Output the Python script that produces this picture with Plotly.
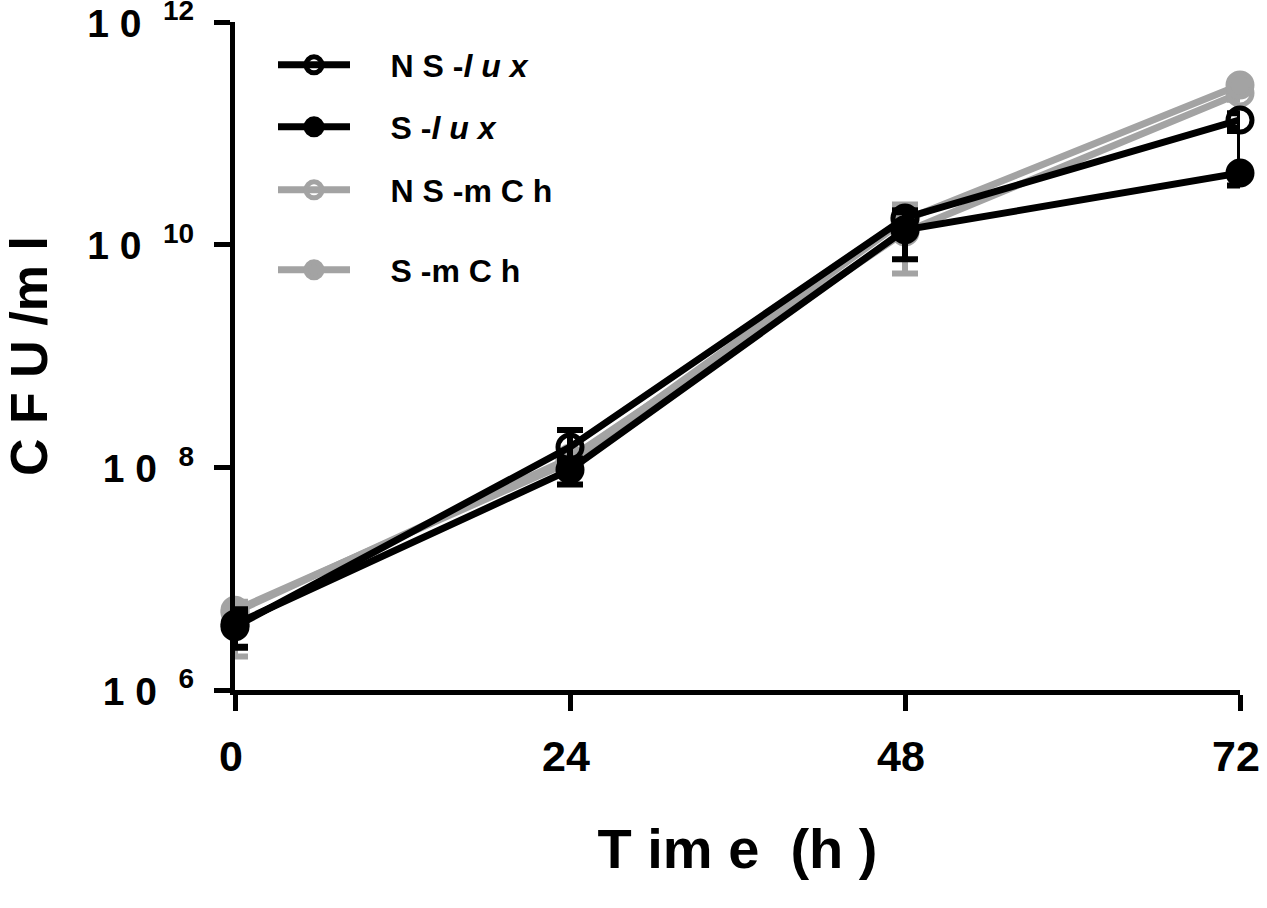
import plotly.graph_objects as go

# Time points (h)
time_h = [0, 24, 48, 72]

# Series names (legend)
NB = "\u00a0\u00a0\u00a0 "
legend_text = [NB + "N S -<i>l u x</i>", NB + "S -<i>l u x</i>",
               NB + "N S -m C h", NB + "S -m C h"]

# Mean CFU/ml
ns_lux = [3.7e6, 1.52e8, 1.74e10, 1.32e11]
s_lux = [3.9e6, 9.5e7, 1.36e10, 4.4e10]
ns_mch = [5.0e6, 1.21e8, 1.30e10, 2.30e11]
s_mch = [5.2e6, 1.12e8, 1.67e10, 2.72e11]

# Error bars (plus / minus) in CFU/ml
ns_lux_err_p = [1.2e6, 6.4e7, 3.0e9, 2.0e10]
ns_lux_err_m = [1.25e6, 4.0e7, 3.0e9, 2.0e10]
s_lux_err_p = [1.4e6, 2.5e7, 6.0e9, 6.1e10]
s_lux_err_m = [1.5e6, 2.5e7, 6.2e9, 1.0e10]
ns_mch_err_p = [1.0e6, 1.5e7, 1.0e10, 3.0e10]
ns_mch_err_m = [3.0e6, 1.5e7, 7.5e9, 3.0e10]
s_mch_err_p = [1.0e6, 1.0e7, 2.0e9, 2.0e10]
s_mch_err_m = [1.0e6, 1.0e7, 2.0e9, 2.0e10]

SUP = "<sup><span style='font-size:28px'>{}</span></sup>"
y_tickvals = [1e6, 1e8, 1e10, 1e12]
y_ticktext = ["1 0\u00a0\u00a0" + SUP.format(e) for e in ["6", "8", "10", "12"]]
x_tickvals = [0, 24, 48, 72]
x_ticktext = ["0", "24", "48", "72"]

BLACK = "#000000"
GRAY = "#a3a3a3"
FONT = "Liberation Sans"

W, H = 1267, 908
ML, MR, MT, MB = 235, 27, 22, 218
PH = H - MT - MB

series = [
    # (index, values, err+, err-, color, symbol, legend id)
    (2, ns_mch, ns_mch_err_p, ns_mch_err_m, GRAY, "circle-open", "legend4"),
    (3, s_mch, s_mch_err_p, s_mch_err_m, GRAY, "circle", "legend5"),
    (0, ns_lux, ns_lux_err_p, ns_lux_err_m, BLACK, "circle-open", "legend2"),
    (1, s_lux, s_lux_err_p, s_lux_err_m, BLACK, "circle", "legend3"),
]

fig = go.Figure()
for idx, vals, ep, em, col, sym, leg in series:
    fig.add_trace(go.Scatter(
        x=time_h, y=vals,
        name=legend_text[idx],
        mode="lines+markers",
        line=dict(color=col, width=7),
        marker=dict(symbol=sym, size=24, color=col,
                    line=dict(color=col, width=5)),
        error_y=dict(type="data", symmetric=False, array=ep, arrayminus=em,
                     color=col, thickness=6, width=13),
        cliponaxis=False,
        legend=leg,
    ))

# legend item centres (px from top of picture)
leg_y_px = {"legend2": 65, "legend3": 127, "legend4": 190, "legend5": 270}
legend_layout = {}
for key, ypx in leg_y_px.items():
    legend_layout[key] = dict(
        x=(273 - ML) / (W - ML - MR), y=(H - MB - ypx) / PH,
        xanchor="left", yanchor="middle",
        bgcolor="rgba(0,0,0,0)", borderwidth=0,
        font=dict(family=FONT, size=32, color=BLACK, weight="bold"),
        itemwidth=72,
    )

fig.update_layout(
    width=W, height=H,
    margin=dict(l=ML, r=MR, t=MT, b=MB, autoexpand=False),
    paper_bgcolor="white", plot_bgcolor="white",
    font=dict(family=FONT, color=BLACK, weight="bold"),
    showlegend=True,
    **legend_layout,
)

fig.update_xaxes(
    range=[0, 72], showgrid=False, zeroline=False, automargin=False,
    showline=True, linecolor=BLACK, linewidth=5,
    ticks="outside", ticklen=16, tickwidth=5, tickcolor=BLACK,
    tickvals=x_tickvals, ticktext=x_ticktext,
    tickfont=dict(family=FONT, size=43, color=BLACK, weight="bold"),
    ticklabelstandoff=8, ticklabeloverflow="allow", ticklabelshift=-4,
    title=dict(text="T im e  (h )", standoff=52,
               font=dict(family=FONT, size=56, color=BLACK, weight="bold")),
)
fig.update_yaxes(
    type="log", range=[6, 12.0005], showgrid=False, zeroline=False,
    automargin=False,
    showline=True, linecolor=BLACK, linewidth=5,
    ticks="outside", ticklen=16, tickwidth=5, tickcolor=BLACK,
    tickvals=y_tickvals, ticktext=y_ticktext,
    tickfont=dict(family=FONT, size=39, color=BLACK, weight="bold"),
    ticklabelstandoff=12, ticklabeloverflow="allow", ticklabelshift=1,
    title=dict(text="C F U /m l", standoff=50,
               font=dict(family=FONT, size=52, color=BLACK, weight="bold")),
)

fig.write_html("out.html", config={"displayModeBar": False},
               post_script="document.body.style.margin='0';")
